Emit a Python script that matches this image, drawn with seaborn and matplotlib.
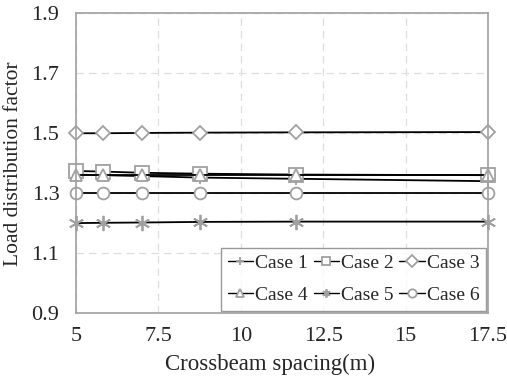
import pandas as pd
import matplotlib.pyplot as plt
import seaborn as sns

# crossbeam spacing (m) = 35 / number of bays
spacing = [5.0, 5.83, 7.0, 8.75, 11.67, 17.5]

case1 = [1.362, 1.360, 1.357, 1.352, 1.348, 1.340]
case2 = [1.374, 1.372, 1.368, 1.365, 1.362, 1.360]
case3 = [1.500, 1.500, 1.501, 1.502, 1.503, 1.504]
case4 = [1.362, 1.362, 1.362, 1.362, 1.362, 1.362]
case5 = [1.200, 1.201, 1.202, 1.204, 1.205, 1.205]
case6 = [1.299, 1.299, 1.299, 1.299, 1.299, 1.299]

case_names = ["Case 1", "Case 2", "Case 3", "Case 4", "Case 5", "Case 6"]
markers = ["+", "s", "D", "^", (6, 2, 0), "o"]
sizes = [9, 9.5, 7, 8.5, 11, 8.5]

rows = []
for name, vals in zip(case_names, [case1, case2, case3, case4, case5, case6]):
    for s, v in zip(spacing, vals):
        rows.append({"Spacing": s, "LDF": v, "Case": name})
df = pd.DataFrame(rows)

sns.set_style("white")
plt.rcParams['font.family'] = ['Liberation Serif', 'DejaVu Serif']

fig, ax = plt.subplots(figsize=(5.07, 3.84), dpi=100)
fig.subplots_adjust(left=0.150, right=0.9625, top=0.965, bottom=0.185)

for name, m, ms in zip(case_names, markers, sizes):
    sub = df[df["Case"] == name]
    sns.lineplot(data=sub, x="Spacing", y="LDF", ax=ax, color="black", lw=1.3,
                 marker=m, markersize=ms, markerfacecolor="white",
                 markeredgecolor="#a0a0a0", markeredgewidth=1.3, label=name)

ax.set_xlim(5, 17.5)
ax.set_ylim(0.9, 1.9)
ax.set_xticks([5, 7.5, 10, 12.5, 15, 17.5])
ax.set_xticklabels(["5", "7.5", "10", "12.5", "15", "17.5"])
ax.set_yticks([0.9, 1.1, 1.3, 1.5, 1.7, 1.9])
ax.set_yticklabels(["0.9", "1.1", "1.3", "1.5", "1.7", "1.9"])
ax.tick_params(labelsize=16, length=0)
ax.tick_params(axis="y", pad=12)
ax.tick_params(axis="x", pad=10)
ax.grid(True, color="#dedede", linestyle=(0, (6, 4)), lw=0.9)
for sp in ax.spines.values():
    sp.set_color("#a0a0a0")
    sp.set_linewidth(1.2)
for c in ax.lines:
    c.set_clip_on(False)

ax.set_xlabel("Crossbeam spacing(m)", fontsize=16.5)
ax.xaxis.set_label_coords(0.47, -0.135)
ax.set_ylabel("Load distribution factor", fontsize=15.5, labelpad=6)

# row-wise legend order (matplotlib fills columns first)
handles, labels = ax.get_legend_handles_labels()
order = [0, 3, 1, 4, 2, 5]
leg = ax.legend([handles[i] for i in order], [labels[i] for i in order],
                loc="lower right", ncol=3, fontsize=14, frameon=True,
                fancybox=False, handlelength=1.3, handletextpad=0.1,
                columnspacing=0.3, borderpad=0.35, labelspacing=0.75,
                borderaxespad=0.1)
leg.get_frame().set_edgecolor("#808080")
leg.get_frame().set_linewidth(1.0)
for h in leg.legend_handles:
    h.set_markersize(6)
    h.set_linewidth(1.0)

plt.savefig("out.png", dpi=100)
